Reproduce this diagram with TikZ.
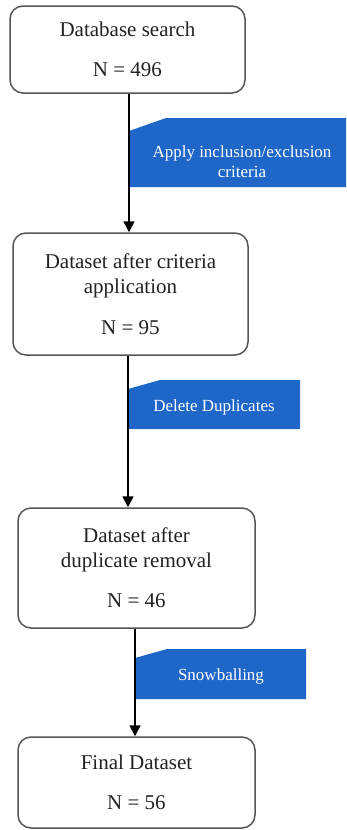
\documentclass[tikz,border=0pt]{standalone}
\usepackage{fontspec}
\setmainfont{Liberation Serif}
\usetikzlibrary{arrows.meta}
\definecolor{tagblue}{HTML}{1F66C9}
\definecolor{boxline}{HTML}{555555}
\definecolor{txt}{HTML}{222222}
\tikzset{
  box/.style={draw=boxline, line width=1.5pt, rounded corners=13pt, fill=white,
    align=center, text=txt, font=\fontsize{21}{25}\selectfont, inner sep=0pt},
  arr/.style={draw=black, line width=1.6pt, -{Triangle[length=11pt,width=11pt]}},
  tagfill/.style={fill=tagblue},
  tagtext/.style={text=white, align=center, font=\fontsize{17}{20}\selectfont, inner sep=0pt}
}
\begin{document}
\begin{tikzpicture}[x=1pt,y=-1pt]
\useasboundingbox (0,0) rectangle (346,830);
% tags (behind arrows)
\fill[tagfill] (129,131) -- (166,118) -- (346,118) -- (346,187) -- (129,187) -- cycle;
\node[tagtext] (t1) at (242,162) {Apply inclusion/exclusion\\criteria};
\fill[tagfill] (128,389) -- (160,380) -- (300,380) -- (300,429) -- (128,429) -- cycle;
\node[tagtext] (t2) at (214,407) {Delete Duplicates};
\fill[tagfill] (135,658) -- (167,649) -- (306,649) -- (306,699) -- (135,699) -- cycle;
\node[tagtext] (t3) at (221,676) {Snowballing};
% boxes
\node[box, minimum width=235pt, minimum height=87pt] (b1) at (127.5,49.5)
  {Database search\\[15pt]N = 496};
\node[box, minimum width=235pt, minimum height=122pt] (b2) at (130.5,294)
  {Dataset after criteria\\application\\[16pt]N = 95};
\node[box, minimum width=237pt, minimum height=120pt] (b3) at (136.5,568)
  {Dataset after\\duplicate removal\\[15pt]N = 46};
\node[box, minimum width=237pt, minimum height=91pt] (b4) at (136.5,782.5)
  {Final Dataset\\[15pt]N = 56};
% arrows
\draw[arr] ([xshift=1.5pt]b1.south) -- ([xshift=1.5pt]b1.south |- b2.north);
\draw[arr] ([xshift=-2.5pt]b2.south) -- ([xshift=-2.5pt]b2.south |- b3.north);
\draw[arr] ([xshift=-1.5pt]b3.south) -- ([xshift=-1.5pt]b3.south |- b4.north);
\end{tikzpicture}
\end{document}
